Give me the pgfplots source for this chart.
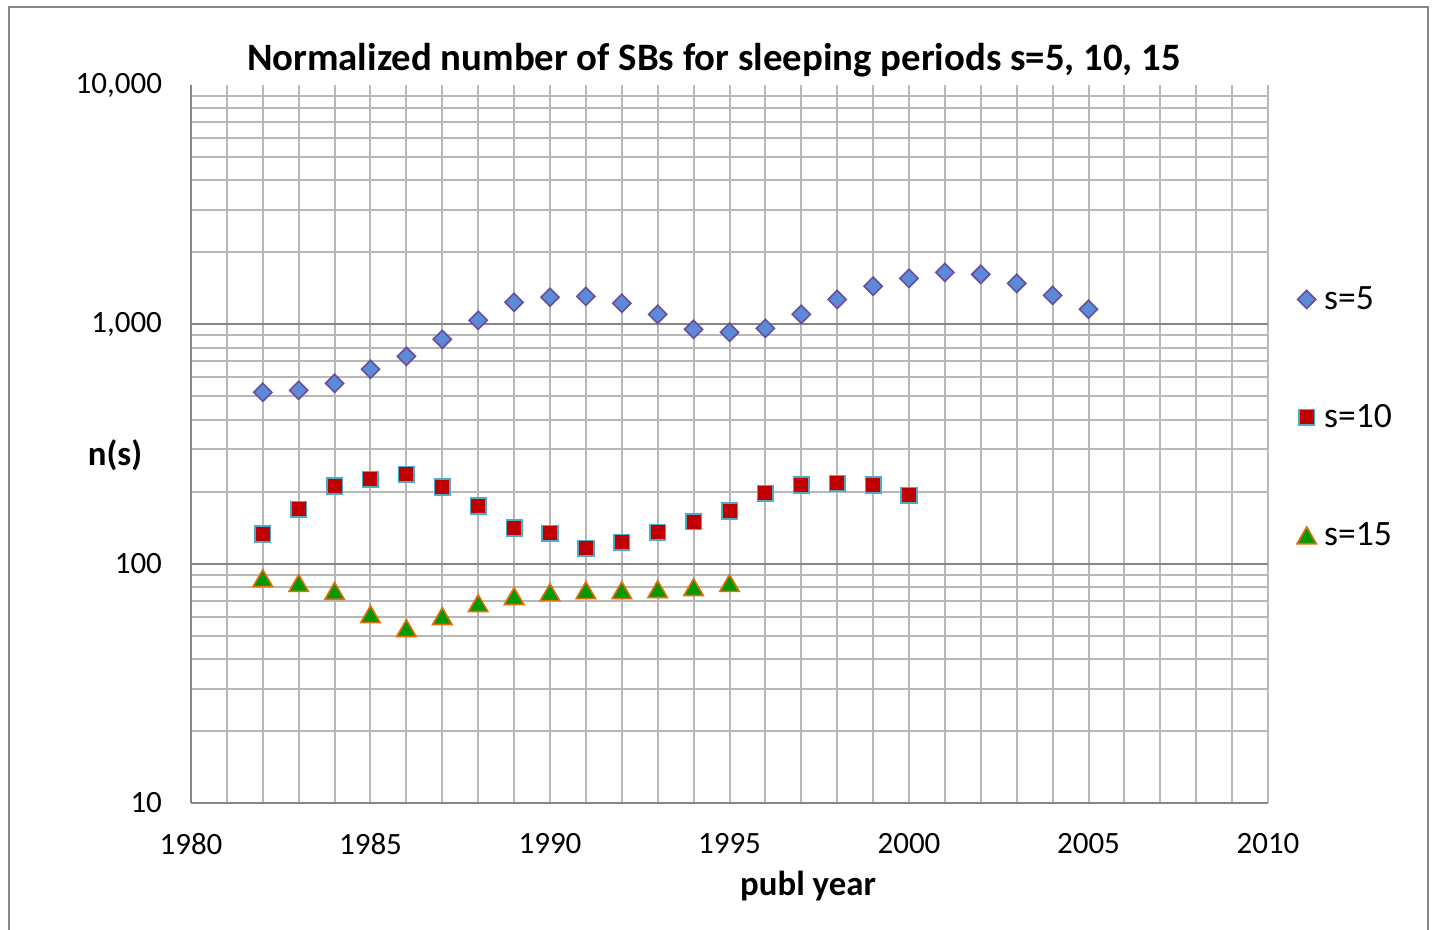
\documentclass[border=0pt]{standalone}
\usepackage{pgfplots}
\pgfplotsset{compat=1.18}
\usepackage{fontspec}
\setmainfont{Carlito}
\definecolor{gridl}{HTML}{B8B8B8}
\definecolor{gridd}{HTML}{868686}
\definecolor{dfill}{HTML}{5B8BD8}
\definecolor{ddraw}{HTML}{6A4C9C}
\definecolor{sfill}{HTML}{C00000}
\definecolor{sdraw}{HTML}{4BACC6}
\definecolor{tfill}{HTML}{009A00}
\definecolor{tdraw}{HTML}{E46C0A}
\begin{document}
\begin{tikzpicture}
\useasboundingbox (0,0) rectangle (716pt,465pt);
\draw[gridd, line width=1pt] (4.25pt,-2pt) -- (4.25pt,461.5pt) -- (714pt,461.5pt) -- (714pt,-2pt);
\begin{axis}[
  at={(95.5pt,63.5pt)}, anchor=south west,
  scale only axis, width=538.5pt, height=359pt,
  xmin=1980, xmax=2010, ymode=log, ymin=10, ymax=10000,
  xtick={1980,1985,...,2010},
  xticklabels={1980,1985,1990,1995,2000,2005,2010},
  minor x tick num=4,
  ytick={10,100,1000,10000},
  yticklabels={10,100,{1,000},{10,000}},
  grid=both,
  minor grid style={gridl, line width=1pt},
  major grid style={gridl, line width=1pt},
  ymajorgrids=false,
  extra y ticks={100,1000},
  extra y tick labels={},
  extra y tick style={grid=major, major grid style={gridd, line width=1pt}, major tick length=0pt},
  axis x line*=bottom, axis y line*=left,
  axis line style={gridd, line width=1pt, -},
  major tick length=0pt, minor tick length=0pt,
  tick label style={font=\fontsize{15.5}{18}\selectfont, black},
  yticklabel style={xshift=-11pt},
  xticklabel style={yshift=-11.5pt},
  clip=false,
  legend style={at={(1.021,0.537)}, anchor=west, draw=none, fill=none,
    font=\fontsize{17.8}{20}\selectfont, row sep=42pt},
  legend cell align=left,
  legend image code/.code={\draw[#1] plot coordinates {(0.2cm,0cm)}; \path (0.2cm,0cm) ++(6.5pt,0pt);},
]
\addplot[only marks, mark=square*, mark size=3.2pt, mark options={rotate=45, fill=dfill, draw=ddraw, line width=0.8pt}]
 coordinates {(1982,520)(1983,530)(1984,567)(1985,649)(1986,735)(1987,866)(1988,1039)(1989,1236)(1990,1297)(1991,1309)(1992,1224)(1993,1101)(1994,953)(1995,926)(1996,962)(1997,1101)(1998,1271)(1999,1442)(2000,1556)(2001,1648)(2002,1617)(2003,1483)(2004,1321)(2005,1156)};
\addlegendentry{s=5}
\addplot[only marks, mark=square*, mark size=3.9pt, mark options={fill=sfill, draw=sdraw, line width=0.8pt}]
 coordinates {(1982,133)(1983,169)(1984,211)(1985,225)(1986,236)(1987,209)(1988,174)(1989,141)(1990,134)(1991,116)(1992,123)(1993,135)(1994,150)(1995,166)(1996,197)(1997,213)(1998,217)(1999,213)(2000,193)};
\addlegendentry{s=10}
\addplot[only marks, mark=triangle*, mark size=5.6pt, mark options={fill=tfill, draw=tdraw, line width=0.8pt, yshift=-1.4pt}]
 coordinates {(1982,87)(1983,83)(1984,77)(1985,61.5)(1986,53.8)(1987,60.4)(1988,68.4)(1989,73.2)(1990,76)(1991,77.5)(1992,77.5)(1993,78.3)(1994,79.8)(1995,83)};
\addlegendentry{s=15}
\end{axis}
\node[font=\bfseries\fontsize{19.4}{22}\selectfont] at (357pt,435pt) {Normalized number of SBs for sleeping periods s=5, 10, 15};
\node[font=\bfseries\fontsize{17.4}{20}\selectfont] at (57.5pt,237.5pt) {n(s)};
\node[font=\bfseries\fontsize{17.4}{20}\selectfont] at (404pt,22pt) {publ year};
\end{tikzpicture}
\end{document}
